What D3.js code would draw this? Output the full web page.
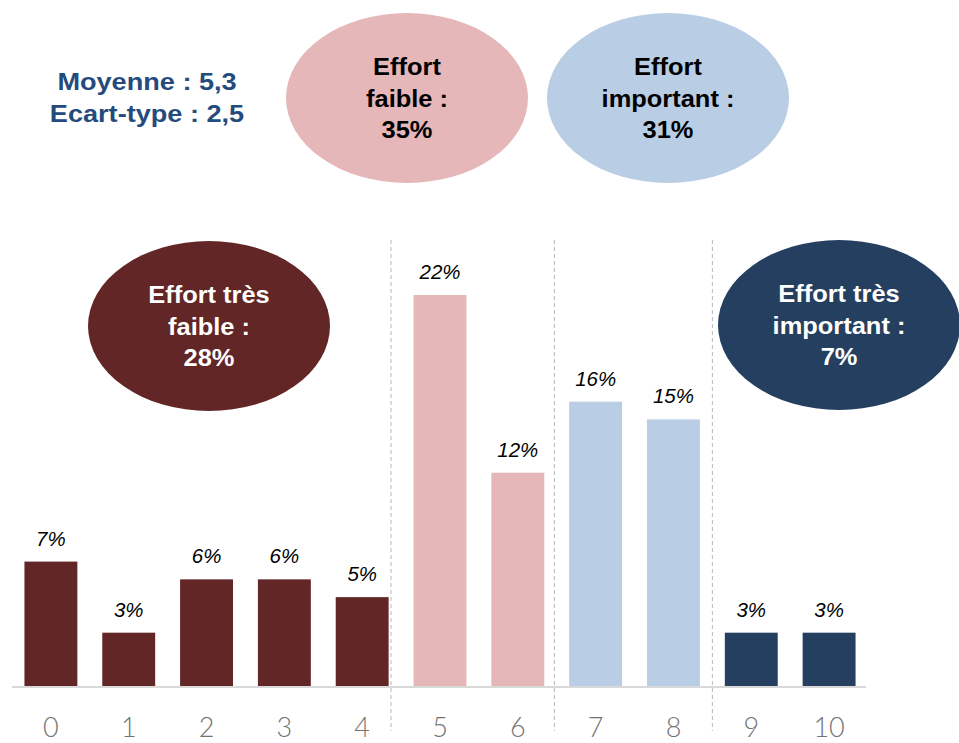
<!DOCTYPE html>
<html><head><meta charset="utf-8">
<script src="https://cdn.jsdelivr.net/npm/d3@7"></script>
<style>body{margin:0;background:#fff}svg{display:block}</style>
</head><body>
<script>
const categories = ["0","1","2","3","4","5","6","7","8","9","10"];
const values = [7,3,6,6,5,22,12,16,15,3,3];
const valueLabels = ["7%","3%","6%","6%","5%","22%","12%","16%","15%","3%","3%"];
const groups = ["tf","tf","tf","tf","tf","f","f","i","i","ti","ti"];
const groupColors = {tf:"#622626", f:"#e5b7b8", i:"#b9cde4", ti:"#243f60"};
const dividers = [4.37, 6.47, 8.5];
const bubbles = [
  {key:"f", lines:["Effort","faible :","35%"], cx:407, cy:98, text:"#000"},
  {key:"i", lines:["Effort","important :","31%"], cx:668, cy:98, text:"#000"},
  {key:"tf", lines:["Effort très","faible :","28%"], cx:209, cy:326, text:"#fff"},
  {key:"ti", lines:["Effort très","important :","7%"], cx:839, cy:325, text:"#fff"}
];
const stats = ["Moyenne : 5,3","Ecart-type : 2,5"];

const W=959,H=743;
const svg=d3.select("body").append("svg").attr("width",W).attr("height",H);

const x=d3.scaleBand().domain(categories).range([12,868]).paddingInner(0.32).paddingOuter(0.16);
const y=d3.scaleLinear().domain([0,22]).range([686,295]);
const step=x.step();
const cx=i=>x(categories[0])+x.bandwidth()/2+i*step;

// dividers
svg.selectAll("line.div").data(dividers).join("line")
  .attr("x1",d=>cx(d)).attr("x2",d=>cx(d)).attr("y1",240).attr("y2",731)
  .attr("stroke","#b8b8b8").attr("stroke-width",1).attr("stroke-dasharray","4,3");

// bars
svg.selectAll("rect.bar").data(values).join("rect")
  .attr("x",(d,i)=>x(categories[i])).attr("width",x.bandwidth())
  .attr("y",d=>y(d)).attr("height",d=>y(0)-y(d))
  .attr("fill",(d,i)=>groupColors[groups[i]]);

// axis line
svg.append("line").attr("x1",12).attr("x2",866).attr("y1",y(0)+1).attr("y2",y(0)+1)
  .attr("stroke","#d9d9d9").attr("stroke-width",2);

// value labels
svg.selectAll("text.val").data(values).join("text")
  .attr("transform",(d,i)=>`translate(${x(categories[i])+x.bandwidth()/2},${y(d)-16}) scale(1.05,1)`)
  .attr("text-anchor","middle").attr("font-family","Liberation Sans, Arial, sans-serif")
  .attr("font-style","italic").attr("font-size",19.5).attr("fill","#000")
  .text((d,i)=>valueLabels[i]);

// tick labels
const xAxis=d3.axisBottom(x).tickSize(0).tickPadding(0);
const gx=svg.append("g").attr("transform",`translate(0,${y(0)})`).call(xAxis);
gx.select(".domain").remove();
gx.selectAll("text").attr("y",51).attr("dy",0)
  .attr("font-family","Lato, 'Open Sans', sans-serif").attr("font-weight",300)
  .attr("font-size",27).attr("fill","#737373");

// bubbles
const b=svg.selectAll("g.bub").data(bubbles).join("g");
b.append("ellipse").attr("cx",d=>d.cx).attr("cy",d=>d.cy).attr("rx",121).attr("ry",85)
  .attr("fill",d=>groupColors[d.key]);
b.each(function(d){
  const g=d3.select(this);
  d.lines.forEach((t,k)=>{
    g.append("text").attr("transform",`translate(${d.cx},${d.cy+(k-1)*31.5+8.5}) scale(1.06,1)`)
      .attr("text-anchor","middle").attr("font-family","Liberation Sans, Arial, sans-serif")
      .attr("font-weight","bold").attr("font-size",24).attr("fill",d.text).text(t);
  });
});

// stats
svg.selectAll("text.stat").data(stats).join("text")
  .attr("transform",(d,i)=>`translate(147,${90+i*32}) scale(1.13,1)`).attr("text-anchor","middle")
  .attr("font-family","Liberation Sans, Arial, sans-serif").attr("font-weight","bold")
  .attr("font-size",24).attr("fill","#254b7d").text(d=>d);
</script>
</body></html>
